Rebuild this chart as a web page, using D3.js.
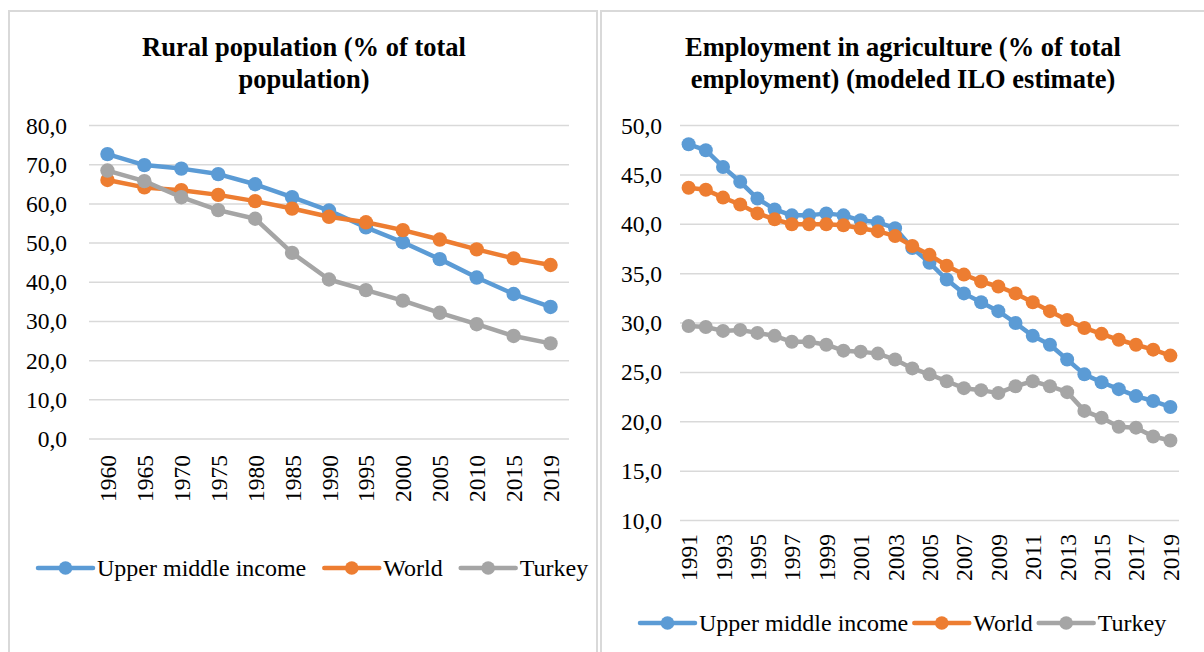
<!DOCTYPE html>
<html>
<head>
<meta charset="utf-8">
<script src="https://cdn.jsdelivr.net/npm/d3@7"></script>
<style>
  html, body { margin: 0; padding: 0; background: #ffffff; }
  svg { display: block; }
</style>
</head>
<body>
<svg id="chart" width="1204" height="652"></svg>
<script>
// Rural population, % of total population
const ruralYears = ["1960", "1965", "1970", "1975", "1980", "1985", "1990", "1995", "2000", "2005", "2010", "2015", "2019"];
const ruralUpperMiddle = [72.7, 69.9, 69.0, 67.6, 65.0, 61.7, 58.3, 54.0, 50.2, 45.9, 41.2, 37.0, 33.7];
const ruralWorld = [66.1, 64.2, 63.5, 62.3, 60.7, 58.8, 56.7, 55.3, 53.3, 50.9, 48.4, 46.1, 44.4];
const ruralTurkey = [68.5, 65.8, 61.7, 58.4, 56.2, 47.5, 40.7, 38.0, 35.3, 32.2, 29.3, 26.3, 24.4];
const ruralTicks = [0, 10, 20, 30, 40, 50, 60, 70, 80];

// Employment in agriculture, % of total employment (modeled ILO estimate)
const empYears = ["1991", "1992", "1993", "1994", "1995", "1996", "1997", "1998", "1999", "2000",
  "2001", "2002", "2003", "2004", "2005", "2006", "2007", "2008", "2009", "2010",
  "2011", "2012", "2013", "2014", "2015", "2016", "2017", "2018", "2019"];
const empUpperMiddle = [48.1, 47.5, 45.8, 44.3, 42.6, 41.5, 40.9, 40.9, 41.1, 40.9,
  40.4, 40.2, 39.6, 37.6, 36.1, 34.4, 33.0, 32.1, 31.2, 30.0,
  28.7, 27.8, 26.3, 24.8, 24.0, 23.3, 22.6, 22.1, 21.5];
const empWorld = [43.7, 43.5, 42.7, 42.0, 41.1, 40.5, 40.0, 40.0, 40.0, 39.9,
  39.6, 39.3, 38.8, 37.8, 36.9, 35.8, 34.9, 34.2, 33.7, 33.0,
  32.1, 31.2, 30.3, 29.5, 28.9, 28.3, 27.8, 27.3, 26.7];
const empTurkey = [29.7, 29.6, 29.2, 29.3, 29.0, 28.7, 28.1, 28.1, 27.8, 27.2,
  27.1, 26.9, 26.3, 25.4, 24.8, 24.1, 23.4, 23.2, 22.9, 23.6,
  24.1, 23.6, 23.0, 21.1, 20.4, 19.5, 19.4, 18.5, 18.1];
const empTicks = [10, 15, 20, 25, 30, 35, 40, 45, 50];
const empYearLabels = empYears.filter((d, i) => i % 2 === 0);

const seriesNames = ["Upper middle income", "World", "Turkey"];
const seriesColors = ["#5B9BD5", "#ED7D31", "#A5A5A5"];

const serif = "'Liberation Serif', 'Times New Roman', Tinos, 'Nimbus Roman', 'DejaVu Serif', serif";
const svg = d3.select("#chart");
const fmt = v => d3.format(".1f")(v).replace(".", ",");

function styleText(sel, size, weight) {
  return sel.attr("font-family", serif).attr("font-size", size).attr("font-weight", weight)
    .style("font-family", serif).style("font-size", size + "px").style("font-weight", weight);
}

function drawPanel(opt) {
  const g = svg.append("g");

  // panel frame (open at the bottom edge of the page)
  g.append("path")
    .attr("d", `M${opt.frame[0]},${opt.frame[3]} V${opt.frame[1]} H${opt.frame[2]} V${opt.frame[3]}`)
    .attr("fill", "none").attr("stroke", "#d9d9d9").attr("stroke-width", 2);

  // title
  const title = styleText(g.append("text"), 26.5, 700)
    .attr("x", opt.titleX).attr("text-anchor", "middle").attr("fill", "#000");
  opt.title.forEach((line, i) => {
    title.append("tspan").attr("x", opt.titleX).attr("y", 56 + i * 32).text(line);
  });

  const x = d3.scalePoint().domain(opt.years).range(opt.xRange).padding(0.5);
  const y = d3.scaleLinear().domain(opt.yDomain).range(opt.yRange);

  // horizontal gridlines
  g.append("g").selectAll("line").data(opt.ticks).join("line")
    .attr("x1", opt.xRange[0]).attr("x2", opt.xRange[1])
    .attr("y1", d => y(d)).attr("y2", d => y(d))
    .attr("stroke", "#d9d9d9").attr("stroke-width", 1.5);

  // y axis labels
  const yAxis = d3.axisLeft(y).tickValues(opt.ticks).tickFormat(fmt).tickSize(0).tickPadding(0);
  const ya = g.append("g").attr("transform", `translate(${opt.yLabelX},0)`).call(yAxis);
  styleText(ya, 23.5, 400);
  ya.select(".domain").remove();
  styleText(ya.selectAll("text"), 23.5, 400).attr("fill", "#000");

  // x axis labels, rotated
  const xAxis = d3.axisBottom(x).tickValues(opt.xLabels).tickSize(0).tickPadding(0);
  const xa = g.append("g").attr("transform", `translate(0,${opt.xLabelY})`).call(xAxis);
  styleText(xa, 23.5, 400);
  xa.select(".domain").remove();
  styleText(xa.selectAll("text"), 23.5, 400)
    .attr("fill", "#000")
    .attr("transform", "rotate(-90)")
    .attr("text-anchor", "end")
    .attr("x", 0).attr("y", 0).attr("dy", "0.34em");

  // series lines and markers
  const line = d3.line().x((d, i) => x(opt.years[i])).y(d => y(d));
  opt.series.forEach((vals, s) => {
    const sg = g.append("g");
    sg.append("path").datum(vals)
      .attr("d", line).attr("fill", "none")
      .attr("stroke", seriesColors[s]).attr("stroke-width", opt.lineWidth)
      .attr("stroke-linejoin", "round");
    sg.selectAll("circle").data(vals).join("circle")
      .attr("cx", (d, i) => x(opt.years[i])).attr("cy", d => y(d))
      .attr("r", opt.markerR).attr("fill", seriesColors[s]);
  });

  // legend
  const lg = g.append("g").attr("transform", `translate(0,${opt.legendY})`);
  let lx = opt.legendX;
  seriesNames.forEach((name, s) => {
    lg.append("line").attr("x1", lx).attr("x2", lx + 55).attr("y1", 0).attr("y2", 0)
      .attr("stroke", seriesColors[s]).attr("stroke-width", 4.5).attr("stroke-linecap", "round");
    lg.append("circle").attr("cx", lx + 27.5).attr("cy", 0).attr("r", 6.8).attr("fill", seriesColors[s]);
    const t = styleText(lg.append("text"), 24, 400)
      .attr("x", lx + 59).attr("y", 0).attr("dy", "0.33em")
      .attr("fill", "#000").text(name);
    lx += 59 + t.node().getComputedTextLength() + opt.legendGap;
  });
}

drawPanel({
  frame: [9, 11, 597, 660],
  title: ["Rural population (% of total", "population)"],
  titleX: 304,
  years: ruralYears,
  xLabels: ruralYears,
  series: [ruralUpperMiddle, ruralWorld, ruralTurkey],
  ticks: ruralTicks,
  xRange: [89, 569],
  yDomain: [0, 80],
  yRange: [439, 125.5],
  yLabelX: 67,
  xLabelY: 455,
  lineWidth: 4.5,
  markerR: 7.2,
  legendX: 38,
  legendY: 568,
  legendGap: 18
});

drawPanel({
  frame: [601, 11, 1210, 660],
  title: ["Employment in agriculture (% of total", "employment) (modeled ILO estimate)"],
  titleX: 903,
  years: empYears,
  xLabels: empYearLabels,
  series: [empUpperMiddle, empWorld, empTurkey],
  ticks: empTicks,
  xRange: [680, 1179],
  yDomain: [10, 50],
  yRange: [520.5, 125.5],
  yLabelX: 662,
  xLabelY: 534,
  lineWidth: 4.5,
  markerR: 7,
  legendX: 640,
  legendY: 623,
  legendGap: 6
});
</script>
</body>
</html>
